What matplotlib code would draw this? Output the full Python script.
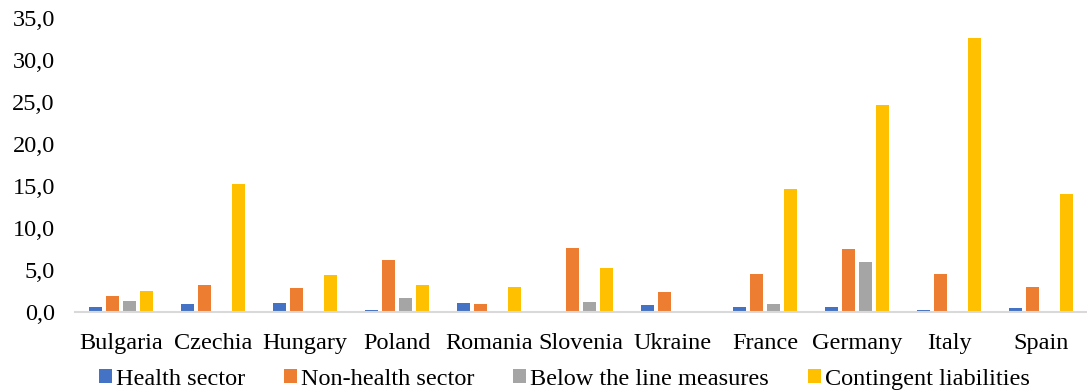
import matplotlib.pyplot as plt
import numpy as np
from matplotlib.patches import Patch
from matplotlib.ticker import FuncFormatter

plt.rcParams['font.family'] = ['Liberation Serif', 'DejaVu Serif']

countries = ['Bulgaria', 'Czechia', 'Hungary', 'Poland', 'Romania', 'Slovenia',
             'Ukraine', 'France', 'Germany', 'Italy', 'Spain']
health = [0.6, 0.95, 1.1, 0.3, 1.05, 0.15, 0.85, 0.55, 0.6, 0.3, 0.45]
non_health = [1.95, 3.25, 2.85, 6.2, 0.95, 7.6, 2.35, 4.5, 7.55, 4.5, 3.0]
below_line = [1.35, 0.0, 0.0, 1.65, 0.1, 1.25, 0.0, 0.9, 5.9, 0.1, 0.0]
contingent = [2.5, 15.3, 4.35, 3.2, 3.0, 5.2, 0.0, 14.6, 24.7, 32.6, 14.0]

series = [
    ('Health sector', health, '#4472C4'),
    ('Non-health sector', non_health, '#ED7D31'),
    ('Below the line measures', below_line, '#A5A5A5'),
    ('Contingent liabilities', contingent, '#FFC000'),
]

fig = plt.figure(figsize=(10.87, 3.92), dpi=100)
ax = fig.add_axes([0.069, 0.204, 0.931, 0.75])

x = np.arange(len(countries))
step = 0.185
for i, (name, vals, col) in enumerate(series):
    ax.bar(x + (i - 1.5) * step, vals, width=0.145, color=col, linewidth=0)

ax.set_xlim(-0.5, len(countries) - 0.5)
ax.set_ylim(0, 35)
ax.set_yticks(np.arange(0, 36, 5))
ax.yaxis.set_major_formatter(FuncFormatter(lambda v, p: f'{v:.1f}'.replace('.', ',')))
ax.set_xticks(x)
ax.set_xticklabels(countries)
ax.tick_params(axis='both', length=0, labelsize=17.5)
ax.tick_params(axis='x', pad=15)
ax.tick_params(axis='y', pad=14.5)

for s in ['top', 'right', 'left']:
    ax.spines[s].set_visible(False)
ax.spines['bottom'].set_color('#d9d9d9')
ax.spines['bottom'].set_linewidth(1.5)

handles = [Patch(facecolor=c, label=n) for n, v, c in series]
fig.legend(handles=handles, loc='center', bbox_to_anchor=(0.519, 0.033), ncol=4,
           frameon=False, fontsize=17.5, handlelength=0.55, handleheight=0.55,
           handletextpad=0.15, columnspacing=1.6)

fig.savefig('out.png', dpi=100)
